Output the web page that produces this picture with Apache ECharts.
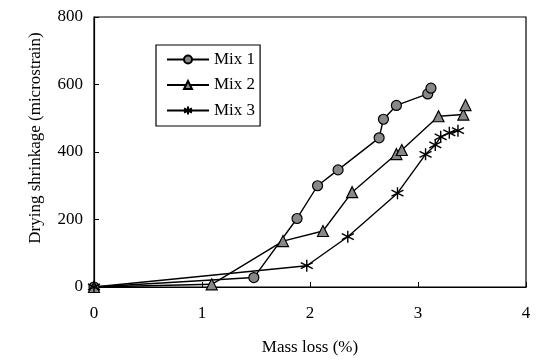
<!DOCTYPE html>
<html><head><meta charset="utf-8">
<script src="https://cdn.jsdelivr.net/npm/echarts@6/dist/echarts.min.js"></script>
<style>html,body{margin:0;padding:0;background:#fff}#c{width:544px;height:363px}</style>
</head><body><div id="c"></div>
<script>
const mix1 = [[0,0],[1.48,28],[1.88,203],[2.07,300],[2.26,347],[2.64,442],[2.68,497],[2.80,538],[3.09,572],[3.12,589]];
const mix2 = [[0,0],[1.09,8],[1.75,136],[2.12,166],[2.39,281],[2.80,394],[2.85,406],[3.19,506],[3.42,511],[3.44,539]];
const mix3 = [[0,0],[1.97,63],[2.35,149],[2.81,278],[3.07,393],[3.16,421],[3.21,445],[3.29,457],[3.37,463]];
const seriesNames = ['Mix 1','Mix 2','Mix 3'];
const xTicks = [0,1,2,3,4];
const yTicks = [0,200,400,600,800];

const font = 'Liberation Serif';
const asterisk = 'path://M5,0 L5,10 M0,2.5 L10,7.5 M0,7.5 L10,2.5';
const chart = echarts.init(document.getElementById('c'));
const mk = (name, data, symbol, size, extra) => Object.assign({
  name, type:'line', data, symbol, symbolSize:size,
  lineStyle:{color:'#000', width:1.4},
  itemStyle:{color:'#888', borderColor:'#000', borderWidth:1.2},
  emphasis:{disabled:true}, animation:false, z: 3
}, extra||{});
chart.setOption({
  animation:false,
  textStyle:{fontFamily:font},
  grid:{left:94, right:18, top:17, bottom:76, show:true, borderColor:'#000', borderWidth:1.2},
  legend:{
    orient:'vertical', left:156, top:45, padding:[6,5,7,10],
    borderColor:'#000', borderWidth:1.2, itemWidth:42, itemHeight:10, itemGap:8.5,
    textStyle:{fontFamily:font, fontSize:17, color:'#000'},
    data: seriesNames
  },
  xAxis:{type:'value', min:xTicks[0], max:xTicks[xTicks.length-1], interval:1,
    name:'Mass loss (%)', nameLocation:'middle', nameGap:52,
    nameTextStyle:{fontFamily:font, fontSize:17, color:'#000'},
    axisLine:{lineStyle:{color:'#000', width:1.2}},
    axisTick:{inside:true, length:5, lineStyle:{color:'#000'}},
    axisLabel:{fontFamily:font, fontSize:17, color:'#000', margin:18},
    splitLine:{show:false}},
  yAxis:{type:'value', min:yTicks[0], max:yTicks[yTicks.length-1], interval:200,
    name:'Drying shrinkage (microstrain)', nameLocation:'middle', nameGap:50,
    nameTextStyle:{fontFamily:font, fontSize:17, color:'#000', padding:[0,0,0,28]},
    axisLine:{lineStyle:{color:'#000', width:1.2}},
    axisTick:{inside:true, length:5, lineStyle:{color:'#000'}},
    axisLabel:{fontFamily:font, fontSize:17, color:'#000', margin:11},
    splitLine:{show:false}},
  series:[
    mk(seriesNames[0], mix1, 'circle', 10),
    mk(seriesNames[1], mix2, 'triangle', 11),
    mk(seriesNames[2], mix3, asterisk, 12, {itemStyle:{color:'none', borderColor:'#000', borderWidth:1.4}})
  ]
});
</script></body></html>
